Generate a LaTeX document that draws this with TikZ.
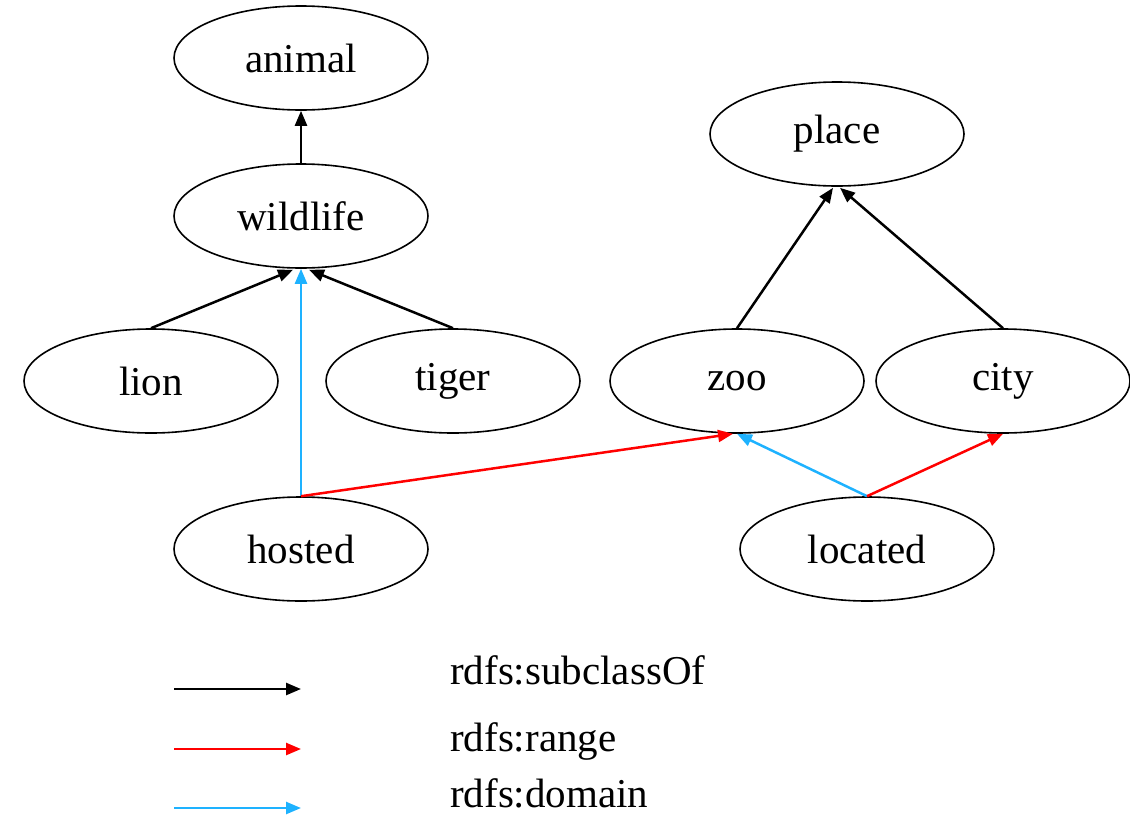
\documentclass[tikz,border=0pt]{standalone}
\usepackage{fontspec}
\setmainfont{Liberation Serif}
\usetikzlibrary{shapes.geometric,arrows.meta,calc}
\definecolor{domainblue}{RGB}{30,178,255}
\definecolor{rangered}{RGB}{255,0,0}
\begin{document}
\begin{tikzpicture}[x=1pt,y=-1pt,
  cls/.style={ellipse,draw,line width=1.6pt,minimum width=254pt,minimum height=104pt,inner sep=0pt,font=\fontsize{41}{46}\selectfont},
  edge/.style={line width=2.5pt,-{Triangle[length=15pt,width=12pt]}},
  subc/.style={edge,draw=black},
  rng/.style={edge,draw=rangered,color=rangered},
  dom/.style={edge,draw=domainblue,color=domainblue},
  lbl/.style={anchor=base west,inner sep=0pt,font=\fontsize{41}{46}\selectfont}]
\useasboundingbox (0,0) rectangle (1130,817);

% class and property nodes
\node[cls] (animal)   at (301,58)  {animal};
\node[cls] (wildlife) at (301,216) {wildlife};
\node[cls] (lion)     at (151,381) {lion};
\node[cls] (tiger)    at (453,381) {tiger};
\node[cls] (place)    at (837,134) {place};
\node[cls] (zoo)      at (737,381) {zoo};
\node[cls] (city)     at (1003,381) {city};
\node[cls] (hosted)   at (301,549) {hosted};
\node[cls] (located)  at (867,549) {located};

% subclass edges
\draw[subc] (wildlife.north) -- (animal.south);
\draw[subc] (lion.north) -- ($(wildlife.south)+(-8,1)$);
\draw[subc] (tiger.north) -- ($(wildlife.south)+(8,1)$);
\draw[subc] (zoo.north) -- ($(place.south)+(-4,1)$);
\draw[subc] (city.north) -- ($(place.south)+(3,1)$);

% domain and range edges
\draw[dom] (hosted.north) -- (wildlife.south);
\draw[rng] (hosted.north) -- ($(zoo.south)+(-4,0)$);
\draw[dom] (located.north) -- ($(zoo.south)+(0,0)$);
\draw[rng] (located.north) -- (city.south);

% legend
\coordinate (k1a) at (174,689); \coordinate (k1b) at (301,689);
\coordinate (k2a) at (174,749); \coordinate (k2b) at (301,749);
\coordinate (k3a) at (174,808); \coordinate (k3b) at (301,808);
\draw[subc] (k1a) -- (k1b);
\draw[rng] (k2a) -- (k2b);
\draw[dom] (k3a) -- (k3b);
\node[lbl] (l1) at (450,684) {rdfs:subclassOf};
\node[lbl] (l2) at (450,751) {rdfs:range};
\node[lbl] (l3) at (450,807) {rdfs:domain};
\end{tikzpicture}
\end{document}
